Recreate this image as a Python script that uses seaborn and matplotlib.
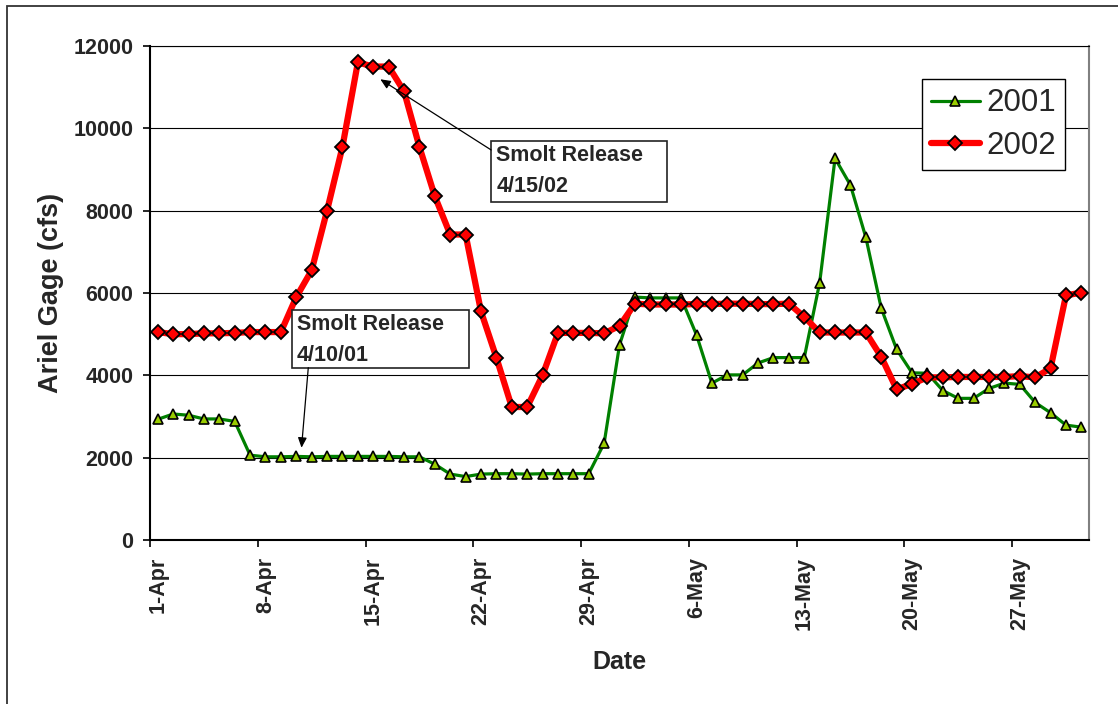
import numpy as np
import pandas as pd
import matplotlib
matplotlib.use("Agg")
import matplotlib.pyplot as plt
import seaborn as sns
from matplotlib.patches import Rectangle

# daily flow at the Ariel gage, 1-Apr .. 31-May
dates = pd.date_range("2002-04-01", "2002-05-31", freq="D")
flow_2001 = [2930, 3060, 3030, 2940, 2940, 2880, 2060, 2020, 2020, 2030,
             2020, 2030, 2030, 2030, 2030, 2030, 2020, 2020, 1840, 1600,
             1540, 1600, 1610, 1610, 1600, 1610, 1610, 1610, 1610, 2350,
             4740, 5900, 5880, 5880, 5880, 4980, 3810, 4010, 4010, 4300,
             4430, 4430, 4430, 6250, 9270, 8620, 7350, 5630, 4630, 4060,
             4050, 3630, 3440, 3440, 3680, 3810, 3780, 3340, 3090, 2790,
             2740]
flow_2002 = [5050, 5000, 5000, 5020, 5020, 5030, 5050, 5050, 5050, 5900,
             6550, 8000, 9550, 11600, 11500, 11500, 10900, 9550, 8350, 7420,
             7420, 5550, 4430, 3230, 3230, 4000, 5030, 5030, 5030, 5020,
             5200, 5740, 5720, 5720, 5720, 5730, 5730, 5740, 5740, 5730,
             5730, 5740, 5420, 5040, 5040, 5040, 5040, 4450, 3660, 3790,
             3950, 3950, 3960, 3960, 3960, 3960, 3980, 3950, 4170, 5940,
             6010]
tick_labels = ["1-Apr", "8-Apr", "15-Apr", "22-Apr", "29-Apr",
               "6-May", "13-May", "20-May", "27-May"]
y_ticks = [0, 2000, 4000, 6000, 8000, 10000, 12000]

sns.set_style("white")
plt.rcParams["font.family"] = ["Liberation Sans", "DejaVu Sans"]

df = pd.DataFrame({"day": np.arange(len(dates)), "2001": flow_2001, "2002": flow_2002})

fig = plt.figure(figsize=(11.18, 7.04), dpi=100)
ax = fig.add_axes([0.1342, 0.2330, 0.8399, 0.7017])

sns.lineplot(data=df, x="day", y="2001", ax=ax, color="#008000", linewidth=2.3,
             marker="^", markersize=6.5, markerfacecolor="#99CC00",
             markeredgecolor="black", markeredgewidth=1.2, label="2001", zorder=3)
sns.lineplot(data=df, x="day", y="2002", ax=ax, color="#FF0000", linewidth=4.5,
             marker="D", markersize=6.8, markerfacecolor="#FF0000",
             markeredgecolor="black", markeredgewidth=1.3, label="2002", zorder=4)

ax.set_xlim(-0.5, 60.5)
ax.set_ylim(0, 12000)
ax.set_yticks(y_ticks)
ax.set_yticklabels([str(v) for v in y_ticks])
ax.set_xticks(np.arange(0, 61, 7))
ax.set_xticklabels(tick_labels, rotation=90)
ax.set_xticks(np.arange(-0.5, 61, 7), minor=True)
ax.tick_params(axis="x", which="major", bottom=True, length=0, pad=12, labelsize=15.5)
ax.tick_params(axis="x", which="minor", bottom=True, length=5, width=1.2, color="black")
ax.tick_params(axis="y", left=True, length=5, width=1.2, color="black", pad=7, labelsize=15.5)
for lab in ax.get_xticklabels() + ax.get_yticklabels():
    lab.set_fontweight("bold")

ax.yaxis.grid(True, color="black", linewidth=0.8)
ax.set_axisbelow(True)
for side in ["left", "bottom"]:
    ax.spines[side].set_color("black")
    ax.spines[side].set_linewidth(1.5)
ax.spines["top"].set_color("black")
ax.spines["top"].set_linewidth(0.8)
ax.spines["right"].set_color("#808080")
ax.spines["right"].set_linewidth(1.5)

ax.set_ylabel("Ariel Gage (cfs)", fontsize=19.5, fontweight="bold")
ax.yaxis.set_label_coords(-0.0916, 0.5)
ax.set_xlabel("Date", fontsize=18, fontweight="bold")
ax.xaxis.set_label_coords(0.5, -0.2227)

leg = ax.legend(loc="upper left", bbox_to_anchor=(0.822, 0.933), fontsize=22.5,
                frameon=True, fancybox=False, edgecolor="black", framealpha=1,
                borderpad=0.3, handlelength=1.55, handletextpad=0.2,
                labelspacing=0.4, borderaxespad=0)
leg.get_frame().set_linewidth(1)
leg.set_zorder(10)

# text boxes for the two smolt releases
notes = [
    ("Smolt Release\n4/10/01", (8.69, 4185), 11.52, 1402, (9.78, 4185), (9.34, 2240)),
    ("Smolt Release\n4/15/02", (21.66, 8218), 11.45, 1482, (21.66, 9474), (14.46, 11191)),
]
for text, (x0, y0), w, h, start, tip in notes:
    ax.add_patch(Rectangle((x0, y0), w, h, facecolor="white", edgecolor="#222222",
                           linewidth=1.2, zorder=6))
    ax.text(x0 + 0.33, y0 + h - 110, text, ha="left", va="top", fontsize=15.5,
            fontweight="bold", linespacing=1.6, zorder=7)
    ax.annotate("", xy=tip, xytext=start, zorder=7,
                arrowprops=dict(arrowstyle="-|>,head_length=0.5,head_width=0.22",
                                mutation_scale=12, color="black", lw=0.9,
                                shrinkA=0, shrinkB=0))

fig.add_artist(Rectangle((7 / 1118, -0.05), 1.2, 1 - 6 / 704 + 0.05,
                         transform=fig.transFigure, fill=False,
                         edgecolor="#333333", linewidth=1.3))

fig.savefig("out.png", dpi=100)
